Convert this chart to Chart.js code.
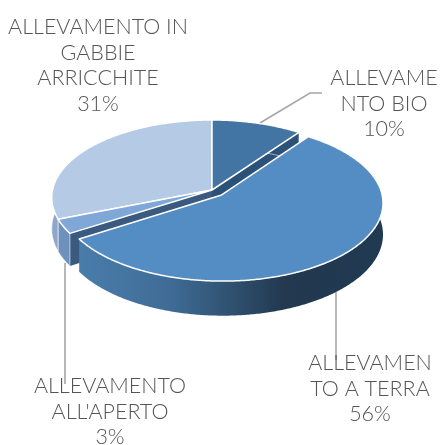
<!DOCTYPE html>
<html>
<head>
<meta charset="utf-8">
<style>html,body{margin:0;padding:0;background:#fff}#wrap{width:440px;height:445px}</style>
<script src="https://cdn.jsdelivr.net/npm/chart.js@4"></script>
</head>
<body>
<div id="wrap"><canvas id="c" width="440" height="445"></canvas></div>
<script>
const categories = ["ALLEVAMENTO BIO", "ALLEVAMENTO A TERRA", "ALLEVAMENTO ALL'APERTO", "ALLEVAMENTO IN GABBIE ARRICCHITE"];
const shares = [10, 56, 3, 31];
const wrappedLabels = [["ALLEVAME", "NTO BIO"], ["ALLEVAMEN", "TO A TERRA"], ["ALLEVAMENTO", "ALL'APERTO"], ["ALLEVAMENTO IN", "GABBIE", "ARRICCHITE"]];
const topColors = ["#4275a3", "#538dc4", "#7fa7d8", "#b5cae4"];

// layout / styling only
const labelAnchors = [[384, 78], [370, 363], [110, 386], [98, 27]];
const leaders = [[[260,123],[310,93],[322,93]], [[336,292],[336,360]], [[65,263],[65,384]]];
const explode = [0, 14, 0, 0];
const RX = 159.5, K = 0.097, A = 76.8, H = 31;
const drawOrder = [3, 2, 0, 1];
const cutColors = {0: "#2c5178", 2: "#3a5a80"};
const rimColors = {0: "#2c5178", 2: "#6d90bd", 3: "#8ea7c9"};

function project(el, r, ang, ox, oy, drop) {
  const u = r * Math.cos(ang) + ox, w = r * Math.sin(ang) + oy;
  const s = 1 / (1 - K * w);
  return [el.x + u * s * RX, el.y + (A * w + drop) * s];
}
function pathFrom(ctx, pts) {
  ctx.beginPath();
  pts.forEach((p, i) => i ? ctx.lineTo(p[0], p[1]) : ctx.moveTo(p[0], p[1]));
  ctx.closePath();
}
function rimPoints(el, a, b, ox, oy, drop) {
  const n = Math.max(2, Math.ceil((b - a) / 0.01)), pts = [];
  for (let i = 0; i <= n; i++) pts.push(project(el, 1, a + (b - a) * i / n, ox, oy, drop));
  return pts;
}
const pie3d = {
  id: "pie3d",
  beforeDatasetsDraw(chart) {
    const ctx = chart.ctx, arcs = chart.getDatasetMeta(0).data;
    ctx.save();
    // leader lines behind the pie
    ctx.strokeStyle = "#a6a6a6"; ctx.lineWidth = 1.6;
    leaders.forEach(l => { ctx.beginPath(); l.forEach((p, i) => i ? ctx.lineTo(p[0], p[1]) : ctx.moveTo(p[0], p[1])); ctx.stroke(); });
    ctx.lineJoin = "round";
    drawOrder.forEach(i => {
      const el = arcs[i], a = el.startAngle, b = el.endAngle;
      const mid = (a + b) / 2, off = (el.options.offset || 0) / RX;
      const ox = Math.cos(mid) * off, oy = Math.sin(mid) * off;
      // radial cut wall
      if (cutColors[i]) {
        const edge = i === 0 ? b : a;
        const pTop = project(el, 1, edge, ox, oy, 0), pBot = project(el, 1, edge, ox, oy, H);
        const cTop = project(el, 0, edge, ox, oy, 0), cBot = project(el, 0, edge, ox, oy, H);
        pathFrom(ctx, [cTop, pTop, pBot, cBot]);
        ctx.fillStyle = cutColors[i]; ctx.fill();
      }
      // outer rim wall
      const top = rimPoints(el, a, b, ox, oy, 0), bot = rimPoints(el, a, b, ox, oy, H).reverse();
      pathFrom(ctx, top.concat(bot));
      if (i === 1) {
        const g = ctx.createLinearGradient(78, 0, 382, 0);
        g.addColorStop(0, "#4a7dab"); g.addColorStop(0.3, "#3f6c96");
        g.addColorStop(0.68, "#22394f"); g.addColorStop(1, "#203a52");
        ctx.fillStyle = g;
      } else ctx.fillStyle = rimColors[i];
      ctx.fill();
      if (i !== 1) { ctx.strokeStyle = "rgba(255,255,255,0.7)"; ctx.lineWidth = 0.8; ctx.stroke(); }
      // top face
      const c = project(el, 0, a, ox, oy, 0);
      pathFrom(ctx, [c].concat(top));
      ctx.fillStyle = el.options.backgroundColor; ctx.fill();
      ctx.strokeStyle = "#fff"; ctx.lineWidth = 1.5; ctx.stroke();
    });
    // labels
    ctx.fillStyle = "#555"; ctx.textAlign = "center"; ctx.textBaseline = "middle";
    ctx.font = "300 21.5px Lato";
    wrappedLabels.forEach((lines, i) => {
      const [x, y] = labelAnchors[i];
      lines.concat([shares[i] + "%"]).forEach((t, j) => ctx.fillText(t, x, y + j * 25.7));
    });
    ctx.restore();
    return false;
  }
};
new Chart(document.getElementById("c"), {
  type: "pie",
  data: { labels: categories, datasets: [{ data: shares, backgroundColor: topColors, offset: explode, borderWidth: 0 }] },
  options: {
    responsive: false, animation: false,
    layout: { padding: { left: 52, right: 68, top: 30, bottom: 95 } },
    plugins: { legend: { display: false }, tooltip: { enabled: false } }
  },
  plugins: [pie3d]
});
</script>
</body>
</html>
